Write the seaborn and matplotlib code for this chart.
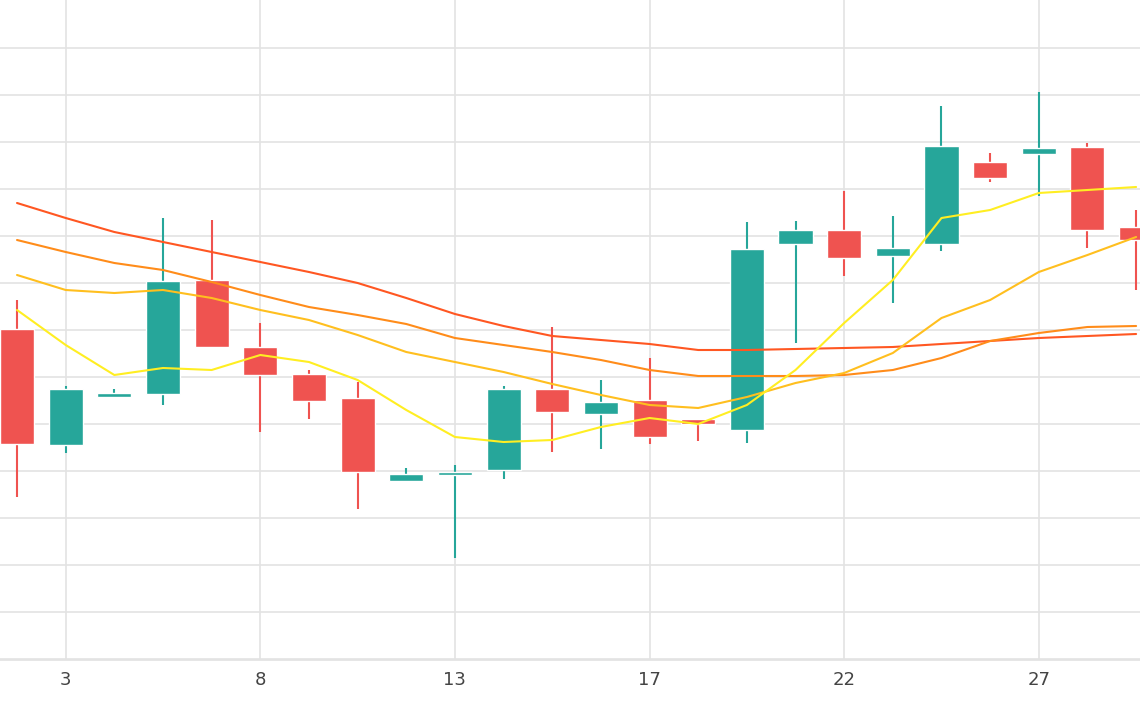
import matplotlib
matplotlib.use("Agg")
import matplotlib.pyplot as plt
import seaborn as sns
import pandas as pd
import numpy as np

day_labels = ["3", "8", "13", "17", "22", "27"]
label_idx = [1, 5, 9, 13, 17, 21]

opens  = [371,255,303,306,420,353,326,302,219,225,230,311,286,300,281,270,456,470,444,456,538,546,553,473]
closes = [256,311,307,419,353,325,299,228,226,228,311,288,298,263,276,451,470,442,452,554,522,552,470,460]
highs  = [400,314,311,482,480,377,330,318,232,235,314,373,320,342,281,478,479,509,484,594,547,608,557,490]
lows   = [203,247,303,295,353,268,281,191,219,142,221,248,251,256,259,257,357,424,397,449,518,504,452,410]

ma_a = [497,482,468,458,448,438,428,417,402,386,374,364,360,356,350,350,351,352,353,356,359,362,364,366]
ma_b = [460,448,437,430,418,405,393,385,376,362,355,348,340,330,324,324,324,325,330,342,359,367,373,374]
ma_c = [425,410,407,410,402,390,380,365,348,338,328,316,305,295,292,303,317,327,347,382,400,428,445,463]
ma_d = [390,355,325,332,330,345,338,320,290,263,258,260,273,282,276,295,330,377,420,482,490,507,510,513]

sns.set_theme(style="white")
fig = plt.figure(figsize=(11.4, 7.1), dpi=100)
ax = fig.add_axes([0, 50/710, 1, 660/710])

x = np.arange(len(opens))
up_c, dn_c = "#26a69a", "#ef5350"
colors = [up_c if c >= o else dn_c for o, c in zip(opens, closes)]
ax.vlines(x, lows, highs, colors=colors, linewidth=1.5, zorder=3)
bottoms = np.minimum(opens, closes)
heights = np.maximum(np.abs(np.array(closes) - np.array(opens)), 3)
ax.bar(x, heights, bottom=bottoms, width=0.7, color=colors, zorder=4)

df = pd.DataFrame({"x": x, "a": ma_a, "b": ma_b, "c": ma_c, "d": ma_d})
for col, colr in [("a", "#ff5722"), ("b", "#ff8c1a"), ("c", "#ffbf1f"), ("d", "#ffee22")]:
    sns.lineplot(data=df, x="x", y=col, ax=ax, color=colr, linewidth=1.5, zorder=5)

ax.set_xlim(-0.35, 23.08)
ax.set_ylim(40, 700)
ax.set_yticks([41 + 47 * k for k in range(14)])
ax.set_yticklabels([])
ax.set_xticks(label_idx)
ax.set_xticklabels(day_labels, fontsize=13, color="#444444")
ax.tick_params(axis="x", length=0, pad=8)
ax.tick_params(axis="y", length=0)
ax.grid(True, color="#e3e3e3", linewidth=1.2, zorder=0)
ax.set_axisbelow(True)
ax.set_xlabel("")
ax.set_ylabel("")
for s in ["top", "left", "right"]:
    ax.spines[s].set_visible(False)
ax.spines["bottom"].set_color("#e3e3e3")
fig.savefig("out.png", dpi=100)
